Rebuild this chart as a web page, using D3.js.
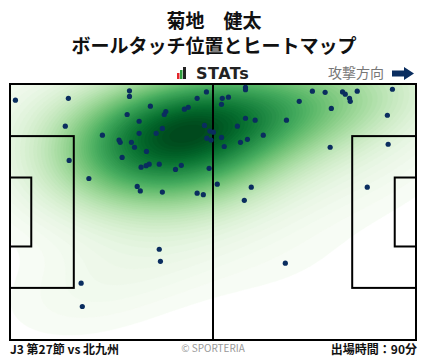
<!DOCTYPE html>
<html>
<head>
<meta charset="utf-8">
<script src="https://cdn.jsdelivr.net/npm/d3@7"></script>
<style>
  html, body { margin: 0; padding: 0; background: #fff; }
  svg { display: block; font-family: "Noto Sans CJK JP", "Noto Sans", sans-serif; }
</style>
</head>
<body>
<svg id="chart" width="428" height="359"></svg>
<script>
// ─── Data (pitch metres, attacking left → right) ───────────────────────────
const pitchLength = 105;
const pitchWidth  = 68;

const touchX = [
  1.4, 15.1, 14.3, 23.9, 28.2, 28.5, 15.3, 20.4, 30.9, 30.9,
  50.8, 48.4, 36.3, 40.3, 39.9, 45.1, 46.1, 30.3, 33.4, 50.3,
  39.4, 51.7, 52.6, 33.4, 37.8, 50.9, 52.0, 31.4, 32.2, 35.3,
  29.0, 36.0, 35.2, 33.9, 38.6, 44.3, 42.8, 51.5, 32.9, 33.7,
  39.4, 48.4, 50.0, 53.6, 60.9, 60.9, 78.2, 74.8, 54.9, 56.5,
  54.7, 60.9, 63.4, 71.5, 58.8, 54.7, 61.4, 65.5, 59.6, 55.4,
  62.4, 60.6, 81.5, 86.0, 86.7, 87.8, 88.0, 89.8, 98.9, 83.1,
  97.6, 82.8, 97.8, 92.4, 38.6, 38.9, 18.4, 18.7, 71.2
];
const touchY = [
  4.3, 3.8, 11.2, 13.6, 14.9, 15.5, 20.3, 25.1, 1.8, 3.3,
  2.1, 3.8, 5.9, 7.3, 8.1, 6.7, 6.2, 8.1, 9.9, 11.0,
  11.8, 12.5, 12.8, 13.1, 13.1, 14.4, 14.9, 15.5, 16.8, 17.9,
  19.5, 21.3, 21.7, 22.1, 21.3, 21.6, 22.7, 22.4, 27.2, 28.4,
  28.7, 29.0, 29.4, 26.6, 0.9, 1.5, 1.9, 4.6, 3.8, 3.5,
  5.4, 9.1, 9.6, 9.6, 11.2, 14.2, 14.7, 13.6, 15.5, 16.6,
  27.4, 30.9, 2.2, 2.1, 2.7, 3.8, 4.6, 1.9, 1.4, 6.5,
  8.3, 16.8, 16.0, 27.4, 43.9, 47.1, 52.9, 59.1, 47.6
];

const playerName   = "菊地　健太";
const chartTitle   = "ボールタッチ位置とヒートマップ";
const directionTxt = "攻撃方向";
const matchLabel   = "J3 第27節 vs 北九州";
const creditLabel  = "© SPORTERIA";
const minutesLabel = "出場時間：90分";

// ─── Layout ────────────────────────────────────────────────────────────────
const svg = d3.select("#chart");
const px0 = 10, px1 = 416, py0 = 84, py1 = 340;

const x = d3.scaleLinear().domain([0, pitchLength]).range([px0, px1]);
const y = d3.scaleLinear().domain([0, pitchWidth]).range([py0, py1]);

const points = touchX.map((v, i) => ({ x: v, y: touchY[i] }));

// ─── Heatmap: gaussian KDE (widened Scott bandwidth, full covariance) ─────
const n = points.length;
const bwAdjust = 1.6;
const mx = d3.mean(points, d => d.x), my = d3.mean(points, d => d.y);
let sxx = 0, syy = 0, sxy = 0;
points.forEach(d => {
  sxx += (d.x - mx) ** 2; syy += (d.y - my) ** 2; sxy += (d.x - mx) * (d.y - my);
});
const f2 = Math.pow(n, -2 / 6) * bwAdjust * bwAdjust;
const cxx = sxx / (n - 1) * f2, cyy = syy / (n - 1) * f2, cxy = sxy / (n - 1) * f2;
const det = cxx * cyy - cxy * cxy;
const ixx = cyy / det, iyy = cxx / det, ixy = -cxy / det;

const cell = 2;
const nx = Math.round((px1 - px0) / cell), ny = Math.round((py1 - py0) / cell);
const grid = new Float64Array(nx * ny);
for (let j = 0; j < ny; j++) {
  const gy = y.invert(py0 + (j + 0.5) * cell);
  for (let i = 0; i < nx; i++) {
    const gx = x.invert(px0 + (i + 0.5) * cell);
    let s = 0;
    for (const d of points) {
      const dx = gx - d.x, dy = gy - d.y;
      s += Math.exp(-0.5 * (ixx * dx * dx + 2 * ixy * dx * dy + iyy * dy * dy));
    }
    grid[j * nx + i] = s;
  }
}

// iso-proportion levels, like seaborn's kdeplot
const sorted = Array.from(grid).sort((a, b) => b - a);
const total = d3.sum(sorted);
const cum = []; let acc = 0;
sorted.forEach(v => { acc += v; cum.push(acc / total); });
const nLevels = 60, thresh = 0.012;
const levels = d3.range(nLevels).map(k => {
  const q = thresh + (1 - thresh) * k / (nLevels - 1);
  const idx = Math.min(d3.bisectLeft(cum, 1 - q), sorted.length - 1);
  return sorted[idx];
}).sort((a, b) => a - b);

const color = d3.scaleSequential(d3.interpolateGreens)
  .domain([levels[0], levels[levels.length - 1]]);

const toPx = d3.geoPath(d3.geoTransform({
  point(gx, gy) { this.stream.point(px0 + gx * cell, py0 + gy * cell); }
}));

svg.append("defs").append("clipPath").attr("id", "pitch-clip")
  .append("rect")
    .attr("x", px0).attr("y", py0)
    .attr("width", px1 - px0).attr("height", py1 - py0);

svg.append("g")
    .attr("clip-path", "url(#pitch-clip)")
  .selectAll("path")
  .data(d3.contours().size([nx, ny]).thresholds(levels)(grid))
  .join("path")
    .attr("d", toPx)
    .attr("fill", d => color(d.value))
    .attr("stroke", d => color(d.value))
    .attr("stroke-width", 0.4);

// ─── Pitch markings ────────────────────────────────────────────────────────
const lines = svg.append("g")
  .attr("fill", "none")
  .attr("stroke", "#000")
  .attr("stroke-width", 2);

const rectM = (x0, y0, x1, y1) => lines.append("rect")
  .attr("x", x(x0)).attr("y", y(y0))
  .attr("width", x(x1) - x(x0)).attr("height", y(y1) - y(y0));

rectM(0, 0, pitchLength, pitchWidth);
rectM(0, pitchWidth / 2 - 20.16, 16.5, pitchWidth / 2 + 20.16);
rectM(0, pitchWidth / 2 - 9.16, 5.5, pitchWidth / 2 + 9.16);
rectM(pitchLength - 16.5, pitchWidth / 2 - 20.16, pitchLength, pitchWidth / 2 + 20.16);
rectM(pitchLength - 5.5, pitchWidth / 2 - 9.16, pitchLength, pitchWidth / 2 + 9.16);
lines.append("line")
  .attr("x1", x(pitchLength / 2)).attr("x2", x(pitchLength / 2))
  .attr("y1", y(0)).attr("y2", y(pitchWidth));

// ─── Touch points ──────────────────────────────────────────────────────────
svg.append("g")
  .selectAll("circle")
  .data(points)
  .join("circle")
    .attr("cx", d => x(d.x))
    .attr("cy", d => y(d.y))
    .attr("r", 2.6)
    .attr("fill", "#0a2d5f");

// ─── Titles ────────────────────────────────────────────────────────────────
svg.append("text")
  .attr("x", 214).attr("y", 28)
  .attr("text-anchor", "middle")
  .attr("font-size", "19px").attr("font-weight", "bold").attr("fill", "#111")
  .text(playerName);

svg.append("text")
  .attr("x", 214).attr("y", 53)
  .attr("text-anchor", "middle")
  .attr("font-size", "19px").attr("font-weight", "bold").attr("fill", "#111")
  .text(chartTitle);

// STATs logo
const logo = svg.append("g");
logo.append("rect").attr("x", 177).attr("y", 73).attr("width", 2.5).attr("height", 6).attr("fill", "#e3262b");
logo.append("rect").attr("x", 180).attr("y", 70).attr("width", 2.5).attr("height", 9).attr("fill", "#2e9e3e");
logo.append("rect").attr("x", 183).attr("y", 67).attr("width", 3).attr("height", 12).attr("fill", "#222");
logo.append("text")
  .attr("x", 196).attr("y", 79)
  .attr("font-family", "'DejaVu Sans', sans-serif")
  .attr("font-size", "16px").attr("font-weight", "bold").attr("fill", "#222")
  .attr("letter-spacing", "0.5")
  .text("STATs");

// attack direction
svg.append("text")
  .attr("x", 384).attr("y", 78)
  .attr("text-anchor", "end")
  .attr("font-size", "14px").attr("fill", "#777")
  .text(directionTxt);

svg.append("path")
  .attr("d", "M392,70.5 L404,70.5 L404,67 L414,73.5 L404,80 L404,76.5 L392,76.5 Z")
  .attr("fill", "#0a2d5f");

// ─── Footer ────────────────────────────────────────────────────────────────
svg.append("text")
  .attr("x", 10).attr("y", 354)
  .attr("font-size", "12px").attr("font-weight", "bold").attr("fill", "#111")
  .text(matchLabel);

svg.append("text")
  .attr("x", 213).attr("y", 352)
  .attr("text-anchor", "middle")
  .attr("font-size", "10px").attr("fill", "#999")
  .text(creditLabel);

svg.append("text")
  .attr("x", 417).attr("y", 354)
  .attr("text-anchor", "end")
  .attr("font-size", "12px").attr("font-weight", "bold").attr("fill", "#111")
  .text(minutesLabel);
</script>
</body>
</html>
